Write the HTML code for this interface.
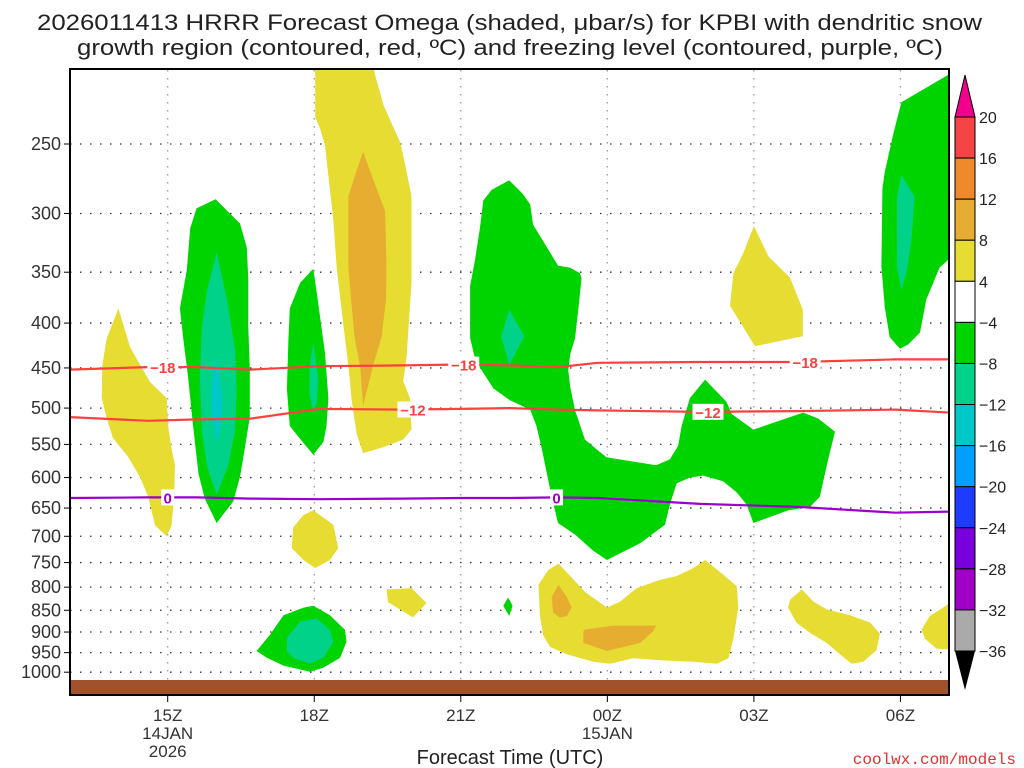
<!DOCTYPE html>
<html><head><meta charset="utf-8"><style>
html,body{margin:0;padding:0;background:#fff;}
svg{display:block;font-family:"Liberation Sans",sans-serif;}
</style></head><body>
<svg id="chart" width="1024" height="768" viewBox="0 0 1024 768" xmlns="http://www.w3.org/2000/svg">
<text x="37" y="30" font-size="22" textLength="945" lengthAdjust="spacingAndGlyphs" fill="#222">2026011413 HRRR Forecast Omega (shaded, μbar/s) for KPBI with dendritic snow</text>
<text x="77" y="55" font-size="22" textLength="866" lengthAdjust="spacingAndGlyphs" fill="#222">growth region (contoured, red, ºC) and freezing level (contoured, purple, ºC)</text>
<defs><clipPath id="plotclip"><rect x="70" y="69" width="879" height="626"/></clipPath></defs>
<g id="grid"></g>
<g id="shades" clip-path="url(#plotclip)"></g>
<g id="lines" clip-path="url(#plotclip)"></g>
<rect x="70" y="680" width="879" height="15" fill="#a0522d"/>
<rect x="70" y="69" width="879" height="626" fill="none" stroke="#000" stroke-width="2"/>
<g id="axes"></g>
<g id="cbar"></g>
<text x="510" y="764" font-size="20" text-anchor="middle" fill="#222">Forecast Time (UTC)</text>
<text x="1016" y="764" font-size="16" text-anchor="end" fill="#e03030" font-family="Liberation Mono, monospace">coolwx.com/models</text>
</svg>
<script>
// ---- data ----
const pressureTicks = [250,300,350,400,450,500,550,600,650,700,750,800,850,900,950,1000];
const timeTickHours = [15,18,21,24,27,30];
const timeTickLabels = ["15Z","18Z","21Z","00Z","03Z","06Z"];
const cbarLabels = ["20","16","12","8","4","−4","−8","−12","−16","−20","−24","−28","−32","−36"];
const cbarColors = ["#f44444","#ef8a2c","#e6ad31","#e6dc32","#ffffff","#00d400","#00d28a","#00c8c8","#00a0ff","#1e3cff","#7800dc","#a000c8","#aaaaaa"];
// shaded omega regions: [hour, hPa] vertices
const yellowA = [[13.99,385],[14.23,426],[14.43,446],[14.64,467],[14.98,487],[15.01,524],[15.08,557],[15.15,580],[15.13,631],[15.08,680],[14.98,700],[14.74,680],[14.6,631],[14.43,599],[14.19,568],[13.88,541],[13.75,513],[13.65,487],[13.66,448],[13.75,417]];
const greenB = [[15.98,289],[16.48,308],[16.62,328],[16.65,356],[16.65,404],[16.68,452],[16.68,512],[16.58,555],[16.48,599],[16.34,639],[16.0,676],[15.76,634],[15.63,594],[15.52,524],[15.42,462],[15.32,417],[15.25,385],[15.39,348],[15.46,312],[15.59,296]];
const tealB = [[16.0,332],[16.21,375],[16.38,429],[16.41,477],[16.38,530],[16.24,581],[16.0,628],[15.8,581],[15.7,530],[15.66,462],[15.7,404],[15.8,368]];
const cyanB = [[15.98,437],[16.1,477],[16.12,503],[16.0,548],[15.9,503],[15.9,472]];
const greenC = [[17.98,347],[18.05,369],[18.22,433],[18.29,487],[18.25,524],[18.19,546],[17.98,565],[17.78,548],[17.5,524],[17.44,476],[17.47,418],[17.5,385],[17.71,360]];
const tealC = [[17.98,421],[18.08,464],[18.05,494],[17.98,503],[17.9,483],[17.9,452]];
const yellowD = [[18.02,200],[18.32,200],[19.18,200],[19.25,209],[19.42,226],[19.76,249],[19.81,256],[19.96,281],[19.99,287],[19.99,360],[19.89,437],[19.82,466],[19.96,487],[19.99,529],[19.82,543],[19.41,554],[19.0,563],[18.87,535],[18.77,492],[18.7,448],[18.6,404],[18.46,346],[18.39,305],[18.29,272],[18.22,251],[18.12,240],[18.02,233]];
const orangeD = [[19.0,255],[19.18,272],[19.45,298],[19.48,345],[19.47,375],[19.38,414],[19.21,446],[19.0,497],[18.94,448],[18.83,417],[18.77,385],[18.7,346],[18.7,287],[18.83,272]];
const yellowE = [[17.98,654],[18.39,679],[18.49,722],[18.32,745],[18.02,761],[17.78,745],[17.54,722],[17.57,684],[17.78,662]];
const yellowF = [[19.48,805],[19.99,802],[20.3,834],[20.02,866],[19.51,832]];
const greenG = [[16.82,946],[17.09,907],[17.37,861],[17.78,844],[17.98,840],[18.32,861],[18.63,895],[18.66,923],[18.53,963],[18.19,988],[17.91,999],[17.37,983],[17.03,963]];
const tealG = [[17.44,913],[17.71,876],[18.05,868],[18.32,895],[18.39,923],[18.19,963],[17.91,978],[17.57,963],[17.44,946]];
const greenH = [[21.99,275],[22.27,285],[22.42,293],[22.48,309],[22.62,318],[22.99,344],[23.24,346],[23.44,351],[23.47,356],[23.41,384],[23.34,416],[23.24,434],[23.2,453],[23.24,473],[23.34,503],[23.54,543],[23.78,557],[23.98,569],[25.0,581],[25.28,572],[25.45,552],[25.52,524],[25.69,487],[26.0,464],[26.44,492],[26.55,508],[26.99,529],[28.01,506],[28.32,514],[28.66,532],[28.52,572],[28.35,631],[28.15,648],[27.7,654],[26.99,676],[26.85,644],[26.65,624],[26.37,606],[25.96,597],[25.69,600],[25.42,609],[25.28,644],[25.18,679],[24.67,713],[23.99,745],[23.71,727],[23.34,697],[22.99,676],[22.86,631],[22.76,593],[22.66,557],[22.55,524],[22.42,502],[22.01,490],[21.67,475],[21.43,453],[21.29,439],[21.19,416],[21.19,363],[21.29,339],[21.39,312],[21.46,290],[21.63,282]];
const tealH = [[21.99,386],[22.3,414],[21.99,447],[21.83,414]];
const yellowI = [[27.0,310],[27.3,336],[27.74,355],[28.0,386],[28.0,414],[27.02,425],[26.72,399],[26.51,382],[26.58,351],[26.78,333]];
const greenJ = [[30.02,224],[31.2,205],[31.2,330],[30.8,346],[30.53,376],[30.4,410],[30.16,423],[29.99,428],[29.78,415],[29.68,384],[29.61,345],[29.63,281],[29.68,269],[29.85,244]];
const tealJ = [[30.02,271],[30.29,287],[30.23,319],[30.13,349],[30.02,367],[29.93,346],[29.93,287]];
const yellowK = [[22.79,765],[23.0,752],[23.24,777],[23.54,810],[23.99,844],[24.26,831],[24.6,802],[25.08,785],[25.42,777],[25.76,761],[26.0,745],[26.31,769],[26.65,798],[26.68,844],[26.58,916],[26.48,964],[26.24,978],[25.76,973],[25.08,969],[24.53,964],[24.05,978],[23.71,973],[23.17,954],[22.83,936],[22.69,909],[22.62,863],[22.59,795]];
const orangeK1 = [[23.0,795],[23.17,821],[23.27,844],[23.17,863],[23.03,867],[22.89,855],[22.86,821]];
const orangeK2 = [[23.54,894],[24.12,885],[25.0,885],[24.93,899],[24.67,926],[23.99,946],[23.51,926],[23.51,899]];
const greenSmall = [[21.97,822],[22.06,840],[21.99,863],[21.87,840]];
const yellowL = [[27.98,805],[28.22,831],[28.49,848],[28.97,861],[29.38,878],[29.58,904],[29.51,944],[29.24,973],[29.0,978],[28.76,954],[28.49,926],[28.15,902],[27.87,878],[27.7,844],[27.74,827]];
const yellowM = [[31.2,822],[31.2,944],[30.74,940],[30.5,916],[30.43,894],[30.6,863]];
// contour lines
const lineHours = [13,14.6,15.6,16.7,18.1,19.8,21,22,23,23.8,25.9,27.9,29.9,31];
const minus18P = [452,449,449,452,448,447,446,447,449,444,443,443,440,440];
const minus12P = [512,517,515,514,501,502,501,500,502,503,505,504,502,506];
const zeroP = [633,632,632,634,635,634,633,633,632,633,643,648,658,656];

// ---- axes ----
const X0=70, X1=949, H0=13, HPX=48.85, Y250=144, YK=381;
const xs = h => X0 + (h-H0)*HPX;
const ys = p => Y250 + YK*Math.log(p/250);
const NS="http://www.w3.org/2000/svg";
function mk(tag, attrs, parent){const e=document.createElementNS(NS,tag);for(const k in attrs)e.setAttribute(k,attrs[k]);parent.appendChild(e);return e;}
const grid=document.getElementById('grid'), shades=document.getElementById('shades'), lines=document.getElementById('lines'), axes=document.getElementById('axes'), cbar=document.getElementById('cbar');

pressureTicks.forEach(p=>{
  const y=ys(p);
  const g=mk('line',{x1:X0,x2:X1,y1:y,y2:y,stroke:'#333','stroke-width':1.3,'stroke-dasharray':'1.5 8.5'},grid);
  
  
  const t=mk('line',{x1:X0-6,x2:X0,y1:y,y2:y,stroke:'#000','stroke-width':1},axes);
  
  
  const l=mk('text',{x:61,y:y+6,'font-size':18,'text-anchor':'end',fill:'#333'},axes);
  l.textContent=p;
  
  
});
timeTickHours.forEach((h,i)=>{
  const x=xs(h);
  const g=mk('line',{x1:x,x2:x,y1:70,y2:695,stroke:'#999','stroke-width':1.3,'stroke-dasharray':'1.5 6.5'},grid);
  
  
  const t=mk('line',{x1:x,x2:x,y1:695,y2:702,stroke:'#000','stroke-width':1},axes);
  
  
  const l=mk('text',{x:x,y:721,'font-size':17,'text-anchor':'middle',fill:'#333'},axes);
  l.textContent=timeTickLabels[i];
  
  
});
[[15,"14JAN"],[15,"2026"],[24,"15JAN"]].forEach((d,i)=>{
  const l=mk('text',{x:xs(d[0]),y:(i===1?757:739),'font-size':17,'text-anchor':'middle',fill:'#333'},axes);
  l.textContent=d[1];
  
  
});

function poly(pts,color,name){
  const e=mk('polygon',{points:pts.map(d=>xs(d[0]).toFixed(1)+','+ys(d[1]).toFixed(1)).join(' '),fill:color},shades);
  
  
}
const Y='#e6dc32',O='#e6ad31',G='#00d400',T='#00d28a',C='#00c8c8';
poly(yellowA,Y,'upward-motion-region');
poly(greenB,G,'rising-motion-region');
poly(tealB,T,'rising-motion-core');
poly(cyanB,C,'rising-motion-peak');
poly(greenC,G,'rising-motion-region');
poly(tealC,T,'rising-motion-core');
poly(yellowD,Y,'sinking-motion-region');
poly(orangeD,O,'sinking-motion-core');
poly(yellowE,Y,'sinking-motion-region');
poly(yellowF,Y,'sinking-motion-region');
poly(greenG,G,'rising-motion-region');
poly(tealG,T,'rising-motion-core');
poly(greenH,G,'rising-motion-region');
poly(tealH,T,'rising-motion-core');
poly(yellowI,Y,'sinking-motion-region');
poly(greenJ,G,'rising-motion-region');
poly(tealJ,T,'rising-motion-core');
poly(yellowK,Y,'sinking-motion-region');
poly(orangeK1,O,'sinking-motion-core');
poly(orangeK2,O,'sinking-motion-core');
poly(greenSmall,G,'rising-motion-region');
poly(yellowL,Y,'sinking-motion-region');
poly(yellowM,Y,'sinking-motion-region');

function cline(ps,color,name,labels,txt){
  const e=mk('polyline',{points:lineHours.map((h,i)=>xs(h).toFixed(1)+','+ys(ps[i]).toFixed(1)).join(' '),fill:'none',stroke:color,'stroke-width':2.2},lines);
  
  
  const w = txt.length*9+4;
  labels.forEach(h=>{
    let k=0; while(k<lineHours.length-2 && lineHours[k+1]<h) k++;
    const f=(h-lineHours[k])/(lineHours[k+1]-lineHours[k]);
    const p=ps[k]+(ps[k+1]-ps[k])*f;
    const x=xs(h), y=ys(p);
    const bg=mk('rect',{x:x-w/2,y:y-8,width:w,height:16,fill:'#fff'},lines);
    
    
    const t=mk('text',{x:x,y:y+6,'font-size':15,'font-weight':'bold','text-anchor':'middle',fill:color},lines);
    t.textContent=txt;
    
    
  });
}
cline(minus18P,'#ff4040','minus-18c-contour',[14.9,21.06,28.05],'−18');
cline(minus12P,'#ff4040','minus-12c-contour',[20.02,26.06],'−12');
cline(zeroP,'#9a00cc','freezing-level-contour',[15,22.96],'0');

// ---- colorbar ----
const CB_X=955, CB_W=20, CB_TOP=117, CB_STEP=(651-117)/13;
mk('polygon',{points:`${CB_X},${CB_TOP} ${CB_X+CB_W},${CB_TOP} ${CB_X+CB_W/2},75`,fill:'#f0008c',stroke:'#000','stroke-width':1},cbar);
cbarColors.forEach((c,i)=>{
  const r=mk('rect',{x:CB_X,y:CB_TOP+i*CB_STEP,width:CB_W,height:CB_STEP,fill:c,stroke:'#000','stroke-width':1},cbar);
  
  
});
const bot=CB_TOP+cbarColors.length*CB_STEP;
mk('polygon',{points:`${CB_X},${bot} ${CB_X+CB_W},${bot} ${CB_X+CB_W/2},690`,fill:'#000'},cbar);
cbarLabels.forEach((s,i)=>{
  const t=mk('text',{x:979,y:CB_TOP+i*CB_STEP+6,'font-size':16,fill:'#222'},cbar);
  t.textContent=s;
  
  
});
</script>
</body></html>
